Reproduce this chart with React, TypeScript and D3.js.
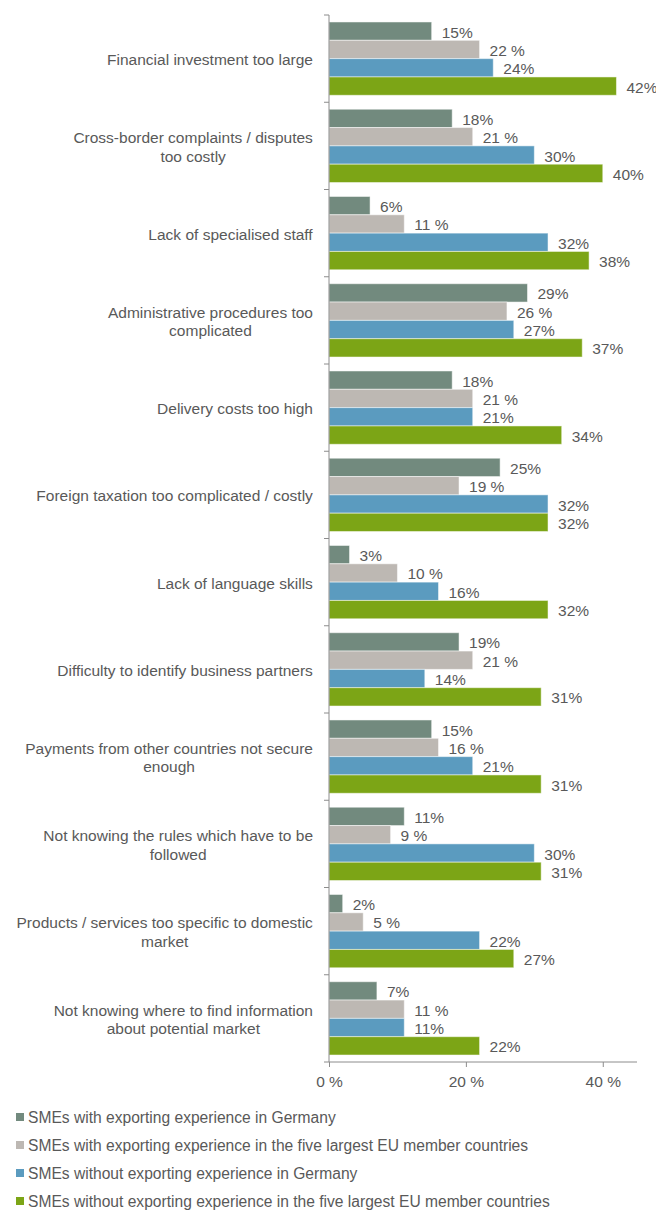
import React, { useEffect, useRef } from 'react';
import * as d3 from 'd3';

const categories: string[][] = [
  ['Financial investment too large'],
  ['Cross-border complaints / disputes', 'too costly'],
  ['Lack of specialised staff'],
  ['Administrative procedures too', 'complicated'],
  ['Delivery costs too high'],
  ['Foreign taxation too complicated / costly'],
  ['Lack of language skills'],
  ['Difficulty to identify business partners'],
  ['Payments from other countries not secure', 'enough'],
  ['Not knowing the rules which have to be', 'followed'],
  ['Products / services too specific to domestic', 'market'],
  ['Not knowing where to find information', 'about potential market'],
];

const withGermany = [15, 18, 6, 29, 18, 25, 3, 19, 15, 11, 2, 7];
const withEU5 = [22, 21, 11, 26, 21, 19, 10, 21, 16, 9, 5, 11];
const withoutGermany = [24, 30, 32, 27, 21, 32, 16, 14, 21, 30, 22, 11];
const withoutEU5 = [42, 40, 38, 37, 34, 32, 32, 31, 31, 31, 27, 22];

const seriesNames = [
  'SMEs with exporting experience in Germany',
  'SMEs with exporting experience in the five largest EU member countries',
  'SMEs without exporting experience in Germany',
  'SMEs without exporting experience in the five largest EU member countries',
];
const seriesColors = ['#728a7e', '#bdb8b3', '#5b9bbf', '#7ca516'];
const labelSuffix = ['%', ' %', '%', '%'];

const xTicks = [0, 20, 40];

export default function App() {
  const svgRef = useRef<SVGSVGElement>(null);

  useEffect(() => {
    document.body.style.margin = '0';
    const width = 656;
    const height = 1210;
    const left = 329;
    const right = 637;
    const top = 15;
    const bottom = 1062;
    const font = 'Arial, "Liberation Sans", sans-serif';
    const textColor = '#595959';
    const fs = 15.5;

    const svg = d3.select(svgRef.current).attr('width', width).attr('height', height);
    svg.selectAll('*').remove();

    const series = [withGermany, withEU5, withoutGermany, withoutEU5];

    const x = d3.scaleLinear().domain([0, 45]).range([left, right]);
    const y = d3
      .scaleBand<number>()
      .domain(d3.range(categories.length))
      .range([top, bottom])
      .paddingInner(0.16)
      .paddingOuter(0.08);
    const step = y.step();
    const inner = d3.scaleBand<number>().domain(d3.range(4)).range([0, y.bandwidth()]);

    // bars
    series.forEach((vals, s) => {
      const g = svg.append('g');
      g.selectAll('rect')
        .data(vals)
        .join('rect')
        .attr('x', x(0))
        .attr('y', (_, i) => (y(i) as number) + (inner(s) as number))
        .attr('width', (d) => x(d) - x(0))
        .attr('height', inner.bandwidth())
        .attr('fill', seriesColors[s])
        .attr('stroke', 'rgba(255,255,255,0.5)')
        .attr('stroke-width', 1);

      g.selectAll('text')
        .data(vals)
        .join('text')
        .attr('x', (d) => x(d) + 10)
        .attr('y', (_, i) => (y(i) as number) + (inner(s) as number) + inner.bandwidth() / 2 + 1)
        .attr('dominant-baseline', 'central')
        .attr('font-family', font)
        .attr('font-size', fs)
        .attr('fill', textColor)
        .text((d) => `${d}${labelSuffix[s]}`);
    });

    // left axis
    const axisColor = '#8c8c8c';
    svg.append('line')
      .attr('x1', left).attr('x2', left)
      .attr('y1', top).attr('y2', bottom)
      .attr('stroke', axisColor);
    svg.append('g')
      .selectAll('line')
      .data(d3.range(categories.length + 1))
      .join('line')
      .attr('x1', left - 5).attr('x2', left)
      .attr('y1', (i) => top + i * step)
      .attr('y2', (i) => top + i * step)
      .attr('stroke', axisColor);

    // category labels
    const labelRight = 313;
    categories.forEach((lines, i) => {
      const cy = (y(i) as number) + y.bandwidth() / 2 + 1;
      const t = svg.append('text')
        .attr('font-family', font)
        .attr('font-size', fs)
        .attr('fill', textColor)
        .attr('text-anchor', 'middle');
      const lh = 18.5;
      lines.forEach((ln, k) => {
        t.append('tspan')
          .attr('x', 0)
          .attr('y', cy + (k - (lines.length - 1) / 2) * lh)
          .attr('dominant-baseline', 'central')
          .text(ln);
      });
      const w = (t.node() as SVGTextElement).getBBox().width;
      t.selectAll('tspan').attr('x', labelRight - w / 2);
    });

    // bottom axis
    const axis = svg.append('g')
      .attr('transform', `translate(0,${bottom})`)
      .call(
        d3.axisBottom(x)
          .tickValues(xTicks)
          .tickSize(5)
          .tickPadding(9)
          .tickFormat((d) => `${d} %`)
      );
    axis.select('.domain').attr('stroke', axisColor).attr('d', `M${left},0H${right}`);
    axis.selectAll('.tick line').attr('stroke', axisColor);
    axis.selectAll('.tick text')
      .attr('font-family', font)
      .attr('font-size', fs)
      .attr('fill', textColor);

    // legend
    const legend = svg.append('g');
    seriesNames.forEach((name, s) => {
      const ly = 1117 + s * 28;
      legend.append('rect')
        .attr('x', 16).attr('y', ly - 4)
        .attr('width', 8).attr('height', 8)
        .attr('fill', seriesColors[s]);
      legend.append('text')
        .attr('x', 28).attr('y', ly)
        .attr('dominant-baseline', 'central')
        .attr('font-family', font)
        .attr('font-size', 15.6)
        .attr('fill', textColor)
        .text(name);
    });
  }, []);

  return <svg ref={svgRef} style={{ display: 'block' }}></svg>;
}
